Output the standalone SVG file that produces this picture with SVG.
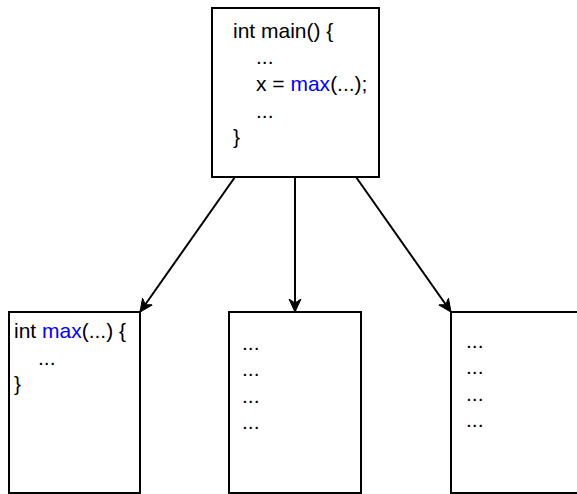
<svg xmlns="http://www.w3.org/2000/svg" width="577" height="494" viewBox="0 0 577 494">
<defs>
<style>
.box{fill:#fff;stroke:#000;stroke-width:2}
.t{font-family:"Liberation Sans",Arial,sans-serif;font-size:21px;fill:#000}
.b{fill:#0000ff}
.c{stroke:#000;stroke-width:2;fill:none}
</style>
<marker id="arr" markerUnits="userSpaceOnUse" markerWidth="14" markerHeight="14" viewBox="0 0 14 14" refX="13" refY="7" orient="auto">
<path d="M0,1 L13,7 L0,13 L4,7 Z" fill="#000" stroke="#000" stroke-width="1"/>
</marker>
</defs>
<g id="connectors">
<line class="c" x1="235" y1="177" x2="140" y2="312" marker-end="url(#arr)"/>
<line class="c" x1="295" y1="177" x2="295" y2="312" marker-end="url(#arr)"/>
<line class="c" x1="356" y1="177" x2="451" y2="312" marker-end="url(#arr)"/>
</g>
<g id="main">
<rect class="box" x="212" y="8" width="167" height="169"/>
<text class="t" x="233" y="38">int main() {</text>
<text class="t" x="256" y="64">...</text>
<text class="t" x="256" y="91">x = <tspan class="b">max</tspan>(...);</text>
<text class="t" x="256" y="118">...</text>
<text class="t" x="233" y="144">}</text>
</g>
<g id="max">
<rect class="box" x="9" y="312" width="131" height="181"/>
<text class="t" x="14" y="338">int <tspan class="b">max</tspan>(...) {</text>
<text class="t" x="38" y="365">...</text>
<text class="t" x="14" y="391">}</text>
</g>
<g id="func2">
<rect class="box" x="229" y="312" width="132" height="181"/>
<text class="t" x="242" y="350">...</text>
<text class="t" x="242" y="376">...</text>
<text class="t" x="242" y="403">...</text>
<text class="t" x="242" y="429">...</text>
</g>
<g id="func3">
<rect class="box" x="451" y="312" width="132" height="181"/>
<text class="t" x="466" y="348">...</text>
<text class="t" x="466" y="374">...</text>
<text class="t" x="466" y="401">...</text>
<text class="t" x="466" y="427">...</text>
</g>
</svg>
